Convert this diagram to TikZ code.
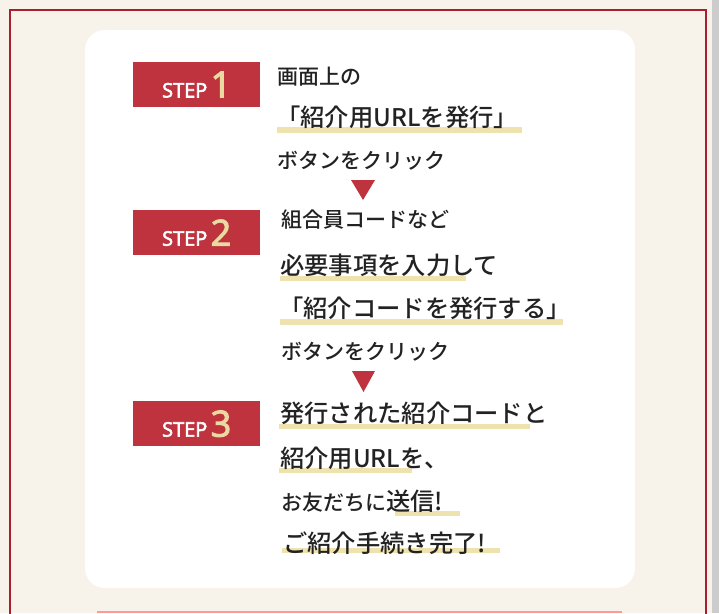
\documentclass[tikz,border=0pt]{standalone}
\usepackage{fontspec}
\setmainfont{Noto Sans CJK JP Medium}[AutoFakeBold=1.5]
\newfontfamily\badgefont{Open Sans}[AutoFakeBold=3]
\definecolor{cream}{HTML}{F7F3EA}
\definecolor{brd}{HTML}{A8202F}
\definecolor{stepred}{HTML}{BF333F}
\definecolor{hl}{HTML}{EEE2AE}
\definecolor{gold}{HTML}{EAD9A0}
\definecolor{txt}{HTML}{222222}
\tikzset{
 badge/.style={fill=stepred,minimum width=127pt,minimum height=45pt,inner sep=0pt,anchor=north west},
 big/.style={anchor=base west,inner sep=0pt,text=txt,font=\fontsize{24.3}{26}\selectfont},
 small/.style={anchor=base west,inner sep=0pt,text=txt,font=\fontsize{21}{22}\selectfont},
 hlbar/.style={fill=hl},
 tri/.style={fill=stepred}
}
\begin{document}
\begin{tikzpicture}[x=1pt,y=-1pt]
\useasboundingbox (0,0) rectangle (719,613);
\fill[cream] (0,0) rectangle (719,613);
\fill[gray!40] (712,0) rectangle (719,613);
\draw[brd,line width=2pt] (10,620) -- (10,9.5) -- (706,9.5) -- (706,620);
\fill[white,rounded corners=20pt] (85,30) rectangle (635,588);
\draw[red!40,line width=1.5pt] (97,612) -- (622,612);
% highlights
\fill[hlbar] (277,127) rectangle (522,133);
\fill[hlbar] (280,276) rectangle (466,281);
\fill[hlbar] (280,319) rectangle (563,325);
\fill[hlbar] (279,424) rectangle (530,429);
\fill[hlbar] (279,468) rectangle (412,473);
\fill[hlbar] (395,511) rectangle (460,516);
\fill[hlbar] (282,548) rectangle (500,553);
% badges
\foreach \n/\y in {1/62,2/210,3/401}{
 \node[badge] (s\n) at (133,\y) {\badgefont\bfseries\fontsize{20}{20}\selectfont\color{white}STEP\,\color{gold}\fontsize{36}{36}\selectfont\n};
}
% step1 text
\node[small] (a1) at (277,84) {画面上の};
\node[big] (a2) at (276,126) {「紹介用URLを発行」};
\node[small] (a3) at (277,168) {ボタンをクリック};
\fill[tri] (351,180) -- (375,180) -- (363,200) -- cycle;
% step2
\node[small] (b1) at (281,227) {組合員コードなど};
\node[big] (b2) at (280,274) {必要事項を入力して};
\node[big] (b3) at (279,317) {「紹介コードを発行する」};
\node[small] (b4) at (281,359) {ボタンをクリック};
\fill[tri] (352,371) -- (375,371) -- (363.5,392) -- cycle;
% step3
\node[big] (c1) at (280,422) {発行された紹介コードと};
\node[big] (c2) at (280,467) {紹介用URLを、};
\node[small] (c3) at (281,510) {お友だちに\fontsize{24.3}{26}\selectfont 送信!};
\node[big] (c4) at (283,552) {ご紹介手続き完了!};
\end{tikzpicture}
\end{document}
